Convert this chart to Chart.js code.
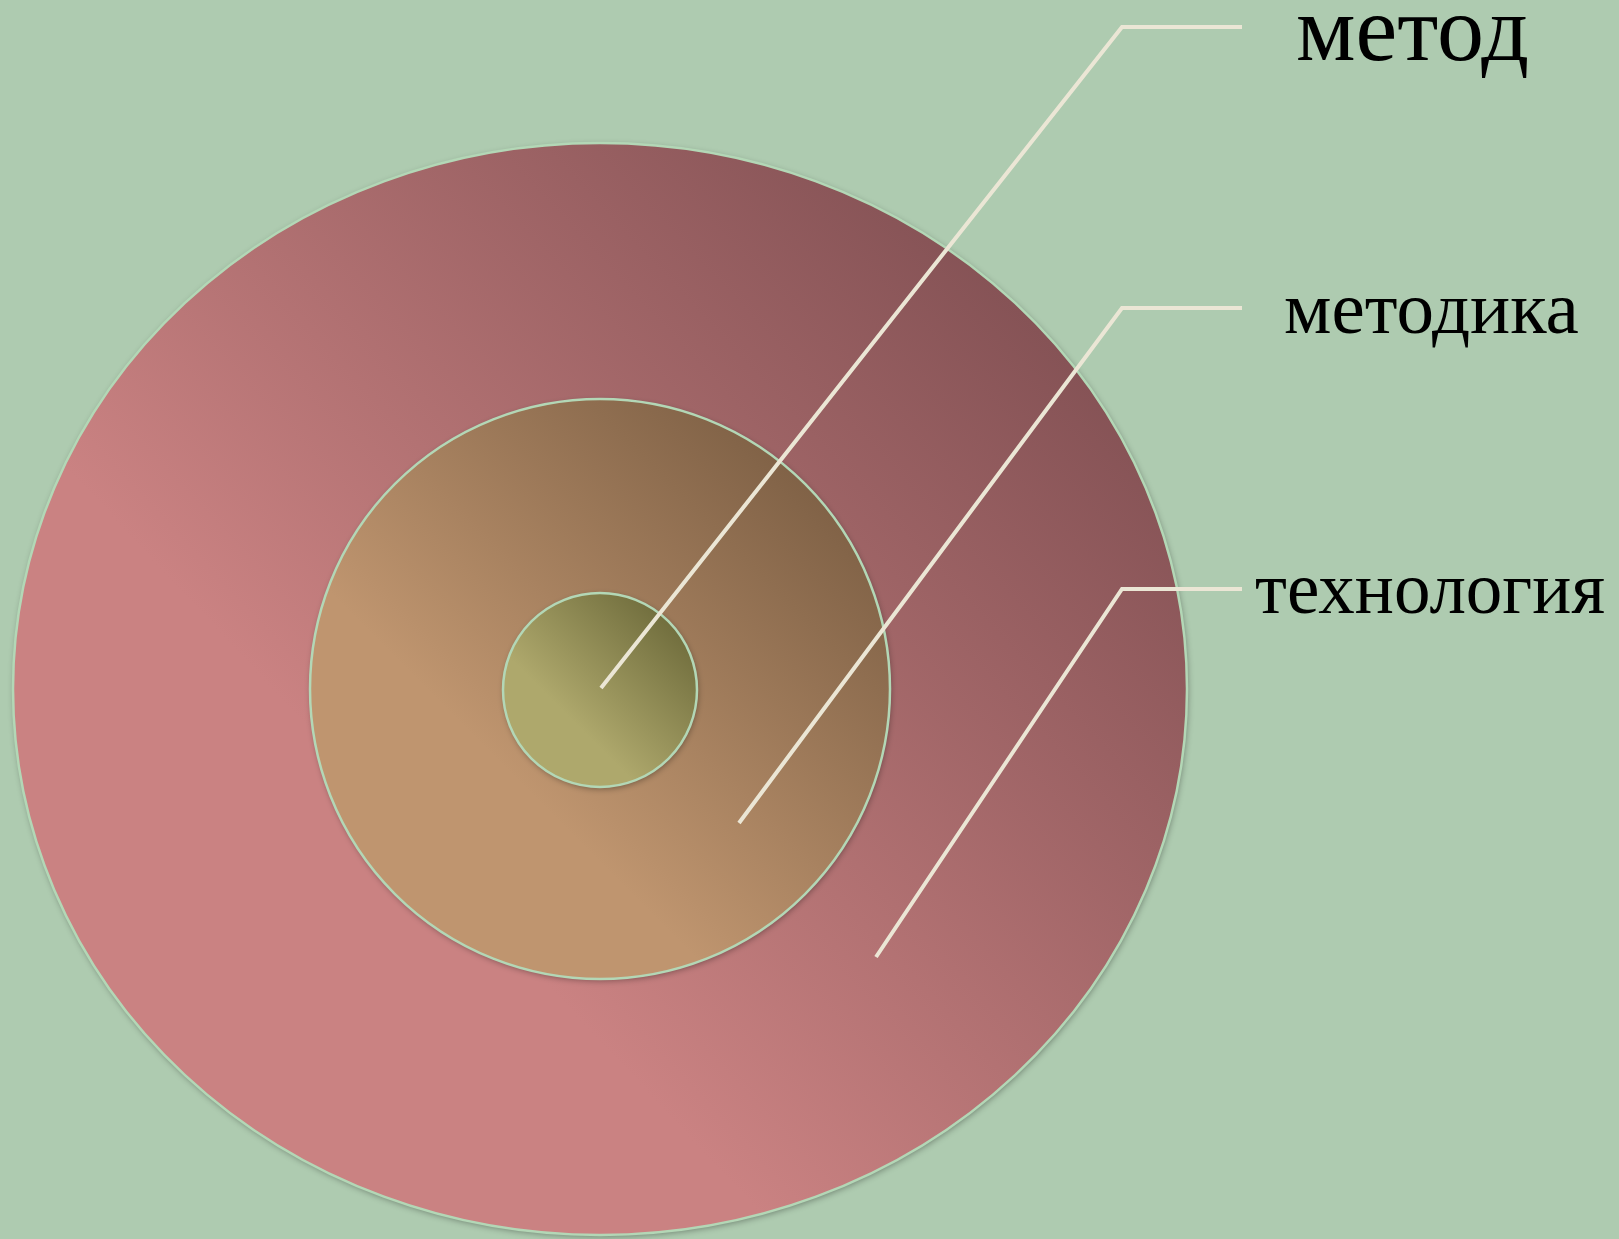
<!DOCTYPE html>
<html>
<head>
<meta charset="utf-8">
<script src="https://cdn.jsdelivr.net/npm/chart.js@4"></script>
<style>
  html, body { margin: 0; padding: 0; background: #aecbb0; }
  #wrap { width: 1619px; height: 1239px; }
</style>
</head>
<body>
<div id="wrap"><canvas id="myChart" width="1619" height="1239"></canvas></div>
<script>
// rings, outer to inner
const ringNames = ['технология', 'методика', 'метод'];
const ringCx = [600, 600, 600];
const ringCy = [689, 689, 690];
const ringRx = [587, 290, 97];
const ringRy = [546, 290, 97];
const ringLight = ['#ca8282', '#bf956f', '#aea86c'];
const ringDark = ['#835154', '#7e6045', '#6f6c3c'];

// leader lines: start inside the ring -> elbow -> end
const lineStartX = [876, 739, 601];
const lineStartY = [957, 823, 688];
const elbowX = [1122, 1122, 1122];
const elbowY = [589, 308, 27];
const lineEndX = [1242, 1242, 1242];

// labels
const labelX = [1255, 1284, 1296];
const labelY = [613, 333, 60];
const labelSize = [73, 75, 94];

const ringsPlugin = {
    id: 'rings',
    beforeDatasetsDraw(chart) {
        const ctx = chart.ctx;
        const sx = chart.scales.x, sy = chart.scales.y;
        ringNames.forEach((n, i) => {
            const cx = sx.getPixelForValue(ringCx[i]);
            const cy = sy.getPixelForValue(ringCy[i]);
            const rx = Math.abs(sx.getPixelForValue(ringCx[i] + ringRx[i]) - cx);
            const ry = Math.abs(sy.getPixelForValue(ringCy[i] + ringRy[i]) - cy);
            const g = ctx.createLinearGradient(cx - rx * 0.75, cy + ry * 0.75, cx + rx * 0.75, cy - ry * 0.75);
            g.addColorStop(0, ringLight[i]);
            g.addColorStop(0.3, ringLight[i]);
            g.addColorStop(1, ringDark[i]);
            ctx.save();
            ctx.beginPath();
            ctx.ellipse(cx, cy, rx, ry, 0, 0, Math.PI * 2);
            ctx.shadowColor = 'rgba(0,0,0,0.35)';
            ctx.shadowBlur = 6;
            ctx.shadowOffsetX = 1;
            ctx.shadowOffsetY = 2;
            ctx.fillStyle = g;
            ctx.fill();
            ctx.shadowColor = 'transparent';
            ctx.lineWidth = 2.5;
            ctx.strokeStyle = '#b3d7b6';
            ctx.stroke();
            ctx.restore();
        });
    },
    afterDraw(chart) {
        const ctx = chart.ctx;
        const sx = chart.scales.x, sy = chart.scales.y;
        ctx.save();
        ctx.fillStyle = '#000';
        ctx.textAlign = 'left';
        ctx.textBaseline = 'alphabetic';
        ringNames.forEach((n, i) => {
            ctx.font = labelSize[i] + 'px "Liberation Serif", "DejaVu Serif", serif';
            ctx.fillText(n, sx.getPixelForValue(labelX[i]), sy.getPixelForValue(labelY[i]));
        });
        ctx.restore();
    }
};

const datasets = ringNames.map((n, i) => ({
    label: n,
    data: [
        { x: lineStartX[i], y: lineStartY[i] },
        { x: elbowX[i], y: elbowY[i] },
        { x: lineEndX[i], y: elbowY[i] }
    ],
    showLine: true,
    borderColor: '#ebe6d5',
    borderWidth: 4,
    borderCapStyle: 'butt',
    pointRadius: 0,
    fill: false
}));

const ctx = document.getElementById('myChart').getContext('2d');
const myChart = new Chart(ctx, {
    type: 'scatter',
    data: { datasets: datasets },
    options: {
        responsive: false,
        animation: false,
        layout: { padding: 0 },
        plugins: { legend: { display: false }, tooltip: { enabled: false } },
        scales: {
            x: { type: 'linear', min: 0, max: 1619, display: false },
            y: { type: 'linear', min: 0, max: 1239, reverse: true, display: false }
        }
    },
    plugins: [ringsPlugin]
});
</script>
</body>
</html>
